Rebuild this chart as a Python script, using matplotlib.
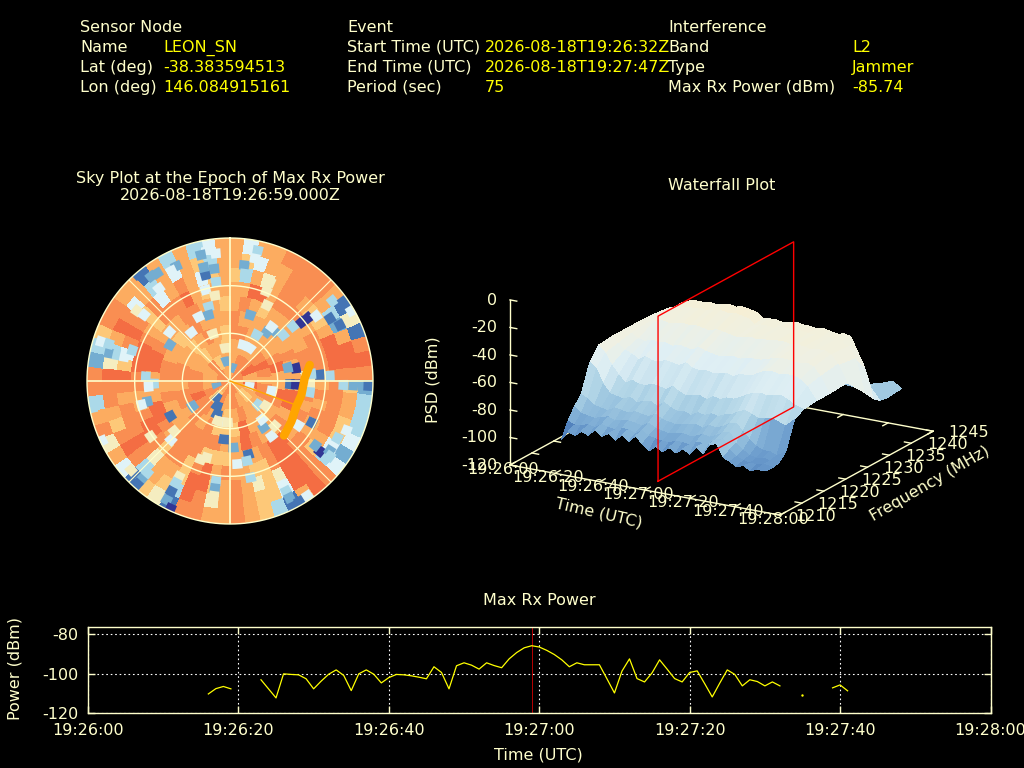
import numpy as np
import matplotlib as mpl
mpl.use('agg')
import matplotlib.pyplot as plt
from matplotlib.colors import ListedColormap, LinearSegmentedColormap, Normalize
from mpl_toolkits.mplot3d import proj3d

plt.rcParams['axes.unicode_minus'] = False

CREAM = '#FFFFCC'
YELLOW = '#FFFF00'
FS = 11.5

# header block: (label, value) rows
sensor_rows = [('Name', 'LEON_SN'), ('Lat (deg)', '-38.383594513'), ('Lon (deg)', '146.084915161')]
event_rows = [('Start Time (UTC)', '2026-08-18T19:26:32Z'), ('End Time (UTC)', '2026-08-18T19:27:47Z'), ('Period (sec)', '75')]
interf_rows = [('Band', 'L2'), ('Type', 'Jammer'), ('Max Rx Power (dBm)', '-85.74')]

# max rx power, seconds after 19:26:00, nan where no data
power_time = [16, 17, 18, 19, 20,
              23, 25, 26, 27, 28, 29, 30, 31, 32, 33, 34, 35, 36, 37, 38, 39, 40, 41, 42, 43, 44, 45, 46, 47, 48, 49,
              50, 51, 52, 53, 54, 55, 56, 57, 58, 59, 60, 61, 62, 63, 64, 65, 66, 67, 68, 69, 70, 71, 72, 73, 74, 75,
              76, 77, 78, 79, 80, 81, 82, 83, 84, 85, 86, 87, 88, 89, 90, 91, 92, 93,
              99, 100, 101]
power_dbm = [-110.2, -107.5, -106.4, -107.6, np.nan,
             -103, -112.2, -100, -100.3, -100.5, -102.5, -107.6, -103.7, -100.2, -98, -100.8, -108.5, -100, -98, -100.2,
             -104.6, -101.9, -100.3, -100.5, -101, -101.7, -102.5, -96.4, -99.3, -107.6, -95.9,
             -94.4, -95.6, -97.6, -94.4, -95.8, -96.9, -92.4, -89.2, -86.8, -85.74, -86.4, -88.1, -90.2, -92.9, -96.4,
             -94.4, -95.4, -95.4, -95.4, -102.5, -109.7, -98.6, -92.4, -102.4, -104.1, -99.5,
             -92.9, -97.6, -102.4, -104.1, -99.3, -98.5, -105, -111.7, -104.7, -98, -100.3, -106.1, -103, -103.9, -106.1,
             -104.1, -106.1, np.nan,
             -107.1, -105.6, -108.6]
dot_time = [95]
dot_power = [-110.7]
max_epoch = 59
time_ticks = [0, 20, 40, 60, 80, 100, 120]
time_labels = ['19:26:00', '19:26:20', '19:26:40', '19:27:00', '19:27:20', '19:27:40', '19:28:00']
power_ticks = [-80, -100, -120]

# sky map background, one string per elevation ring (zenith outwards), sectors clockwise from north
sky_ring_0 = '788778878887'
sky_ring_1 = '78897' + '97678' + '78687' + '77867'
sky_ring_2 = '777789878877787677889888776776'
sky_ring_3 = '887777897' + '798777796' + '668787887' + '887767876'
sky_ring_4 = '8777777877' + '7997877897' + '7888877787' + '8877678777'
sky_ring_5 = '787677777885' + '587877998777' + '666888789977' + '799877788776'
sky_ring_6 = '779978887788887' + '787877889986677' + '879868868998778' + '899987688897677'
sky_ring_7 = '637578876679998' + '888887689956578' + '769967758988878' + '964898684787467'
sky_ring_8 = '764778887327998' + '677664389946678' + '758936738986788' + '953798473747637'
sky_ring_9 = '747788887151898' + '233342489713678' + '778815614758738' + '823688771737347'
sky_rings = [sky_ring_0, sky_ring_1, sky_ring_2, sky_ring_3, sky_ring_4,
             sky_ring_5, sky_ring_6, sky_ring_7, sky_ring_8, sky_ring_9]
sky_colors = ['#313695', '#4575b4', '#74add1', '#abd9e9', '#e0f3f8',
              '#f5edc0', '#fdc878', '#fcac60', '#f98e52', '#f46d43']

# single sky cells that stand out from the background
spot_az = [17, 7, 8, 12, 11.5, 22, 22, 26, 37, 42, 37.5, 30, 31, 20, 49, 49, 50.7, 51, 53, 58, 63, 52, 55, 79, 77, 86, 85, 87, 15, 60,
           92, 92, 92, 93, 93, 103.5, 98, 130, 144, 143, 117, 123, 128, 127, 122, 125, 118, 113, 110, 127, 177, 166, 168, 175, 168, 153, 153, 153, 150, 146, 140, 135, 125, 103,
           186, 201, 207, 217, 253, 190, 197, 183, 236, 239.5, 256, 268, 266, 255, 188, 188, 188, 208, 208, 208, 208, 205, 222, 222, 222, 228, 245, 259, 225, 228, 200.5, 197, 235,
           347, 347, 347, 353.6, 346.6, 352, 345, 344, 342, 334, 321.5, 301, 309, 323, 319, 332, 335, 332, 322.5, 326, 307, 307.6, 283, 283, 283, 287.5, 287, 278, 287, 273, 352, 350, 340, 352, 347]
spot_r = [207, 350, 325, 400, 375, 320, 290, 253, 183, 200, 205, 160, 115, 115, 211, 250, 278, 301, 324, 354, 370, 390, 415, 201, 178, 270, 245, 300, 40, 420,
          415, 370, 340, 180, 198, 128, 242, 110, 172, 207, 275, 245, 342, 321, 395, 365, 365, 380, 410, 375, 200, 227, 296, 250, 245, 349, 371, 393, 417, 415, 150, 190, 130, 60,
          176, 107, 84, 63, 42, 125, 125, 125, 135, 207, 255, 228, 245, 275, 303, 325, 348, 325, 346, 375, 404, 422, 395, 416, 370, 399, 423, 420, 250, 225, 251, 240, 290,
          326, 350, 388, 385, 424, 300, 283, 232, 208, 214, 186, 210, 233, 393, 424, 404, 380, 374, 350, 390, 350, 325, 372, 347, 325, 307, 405, 425, 380, 253, 340, 260, 150, 100, 60]
spot_level = [2, 2, 3, 3, 4, 5, 5, 5, 2, 2, 4, 3, 4, 4, 3, 3, 0, 0, 4, 1, 1, 3, 1, 0, 2, 1, 3, 3, 2, 4,
              1, 2, 3, 1, 0, 4, 3, 3, 2, 4, 1, 4, 0, 2, 2, 2, 3, 4, 3, 3, 2, 1, 3, 4, 3, 4, 3, 2, 1, 4, 4, 5, 5, 4,
              1, 1, 1, 1, 2, 4, 5, 5, 2, 1, 2, 3, 4, 4, 3, 2, 5, 5, 3, 1, 2, 0, 2, 1, 3, 5, 4, 3, 4, 5, 5, 5, 5,
              1, 2, 2, 4, 3, 3, 4, 3, 2, 4, 4, 2, 4, 2, 1, 3, 2, 4, 4, 2, 5, 4, 2, 3, 4, 3, 4, 2, 3, 3, 2, 5, 5, 5, 2]

# satellite track on the sky plot
track_az = [78.6, 88, 101, 111, 123.5, 135.3]
track_zen = [51.2, 47, 45.8, 44.7, 46.3, 48.3]
peak_az = 110
peak_zen = 43

# waterfall
wf_time = [16, 19, 22, 25, 28, 31, 34, 37, 40, 43, 46, 49, 52, 55, 58, 61, 64, 67, 70, 73, 76, 79, 82, 85, 88, 91, 94, 97, 100, 103, 107]
wf_freq = [1213.5, 1215, 1216.5, 1218, 1220, 1222, 1225, 1228, 1232, 1236, 1238, 1239.5, 1241, 1244.5]
psd_1213 = [-103, -96, -98, -94, -96, -91, -95, -92, -96, -91, -95, -90, -95, -99, -95, -98, -94, -97, -93, -96, -90, -94, -86, -85, -94, -96, -99, -97, -100, -98, -98]
psd_1215 = [-92, -94, -93, -92, -93, -90, -91, -92, -90, -90, -92, -89, -92, -93, -94, -94, -92, -92, -93, -90, -90, -89, -85, -84, -91, -95, -97, -98, -98, -97, -98]
psd_1216 = [-84, -88, -89, -90, -88, -87, -89, -88, -87, -88, -89, -86, -89, -90, -91, -90, -89, -90, -89, -87, -88, -86, -83, -82, -89, -93, -96, -97, -96, -97, -97]
psd_1218 = [-78, -80, -84, -85, -86, -83, -84, -85, -83, -84, -85, -82, -85, -86, -87, -86, -85, -84, -86, -83, -84, -82, -79, -78, -83, -88, -92, -94, -94, -96, -92]
psd_1220 = [-58, -62, -72, -78, -79, -80, -78, -81, -79, -78, -81, -77, -80, -82, -81, -83, -80, -81, -79, -80, -78, -77, -74, -72, -74, -76, -75, -74, -76, -78, -72]
psd_1222 = [-49, -54, -62, -68, -73, -70, -72, -72, -70, -71, -72, -69, -72, -74, -73, -72, -74, -71, -72, -70, -70, -68, -65, -63, -62, -63, -62, -61, -63, -66, -68]
psd_1225 = [-48, -52, -56, -58, -61, -58, -60, -60, -58, -59, -60, -57, -60, -61, -60, -61, -60, -59, -61, -58, -58, -57, -54, -52, -52, -53, -52, -52, -54, -58, -67]
psd_1228 = [-48, -50, -53, -54, -52, -53, -52, -54, -52, -53, -54, -51, -53, -54, -55, -54, -53, -54, -53, -52, -52, -51, -49, -48, -48, -49, -49, -48, -50, -56, -67]
psd_1232 = [-48, -49, -47, -46, -47, -46, -45, -46, -45, -46, -47, -45, -46, -47, -48, -47, -46, -47, -46, -46, -45, -45, -46, -45, -46, -47, -46, -46, -48, -54, -66]
psd_1236 = [-49, -47, -45, -43, -42, -42, -41, -42, -41, -40, -41, -40, -41, -42, -46, -45, -45, -46, -44, -44, -45, -44, -45, -45, -46, -45, -46, -47, -49, -56, -80]
psd_1238 = [-50, -48, -44, -42, -41, -41, -40, -41, -40, -39, -40, -39, -40, -41, -45, -44, -44, -45, -44, -43, -44, -44, -45, -44, -45, -46, -45, -46, -56, -66, -88]
psd_1239 = [-70, -66, -64, -62, -60, -61, -60, -62, -60, -59, -61, -60, -61, -62, -64, -63, -64, -65, -63, -64, -65, -64, -65, -66, -65, -66, -64, -78, -82, -84, -92]
psd_1241 = [-88, -87, -86, -87, -85, -86, -85, -87, -86, -85, -86, -85, -87, -86, -88, -87, -87, -88, -86, -87, -88, -86, -87, -88, -87, -86, -86, -86, -85, -84, -93]
psd_1244 = [-96, -95, -96, -95, -96, -95, -96, -96, -95, -96, -95, -96, -96, -95, -97, -96, -96, -97, -95, -96, -97, -96, -96, -97, -96, -95, -94, -92, -90, -88, -92]
psd_rows = [psd_1213, psd_1215, psd_1216, psd_1218, psd_1220, psd_1222, psd_1225,
            psd_1228, psd_1232, psd_1236, psd_1238, psd_1239, psd_1241, psd_1244]
wf_levels = [-105, -97, -90, -80, -70, -60, -50, -38]
wf_colors = ['#4a7ab8', '#6b9bcc', '#8bb8da', '#b0d4e6', '#d2e8f1', '#dfeff4', '#eef0e4', '#f7efd2']
freq_ticks = [1210, 1215, 1220, 1225, 1230, 1235, 1240, 1245]
psd_ticks = [0, -20, -40, -60, -80, -100, -120]
plane_freq = [1213.5, 1244.5]

fig = plt.figure(figsize=(10.24, 7.68), dpi=100, facecolor='black')


def put(x, y, s, color=CREAM, ha='left', rotation=0):
    # x, y in pixels from the top left, y is the middle of the line of text
    if rotation == 0:
        return fig.text(x / 1024, 1 - (y + 5) / 768, s, color=color, fontsize=FS, ha=ha, va='baseline')
    return fig.text(x / 1024, 1 - y / 768, s, color=color, fontsize=FS, ha=ha, va='center',
                    rotation=rotation, rotation_mode='anchor')


# header
put(80, 27, 'Sensor Node')
put(347, 27, 'Event')
put(668, 27, 'Interference')
for i in range(3):
    y = 47 + 20 * i
    put(80, y, sensor_rows[i][0])
    put(163, y, sensor_rows[i][1], YELLOW)
    put(347, y, event_rows[i][0])
    put(485, y, event_rows[i][1], YELLOW)
    put(668, y, interf_rows[i][0])
    put(852, y, interf_rows[i][1], YELLOW)

put(230, 178, 'Sky Plot at the Epoch of Max Rx Power', ha='center')
put(230, 195, '2026-08-18T19:26:59.000Z', ha='center')
put(722, 185, 'Waterfall Plot', ha='center')
put(539, 600, 'Max Rx Power', ha='center')

# sky plot
R = 143
ax_sky = fig.add_axes([(230 - R) / 1024, 1 - (381 + R) / 768, 2 * R / 1024, 2 * R / 768], projection='polar')
ax_sky.set_theta_zero_location('N')
ax_sky.set_theta_direction(-1)
ax_sky.set_facecolor('black')
sky_cmap = ListedColormap(sky_colors)
r_edges = np.linspace(0, 90, len(sky_rings) + 1)
for i, ring in enumerate(sky_rings):
    vals = np.array([[int(c) for c in ring]])
    th_edges = np.radians(np.linspace(0, 360, vals.shape[1] + 1))
    ax_sky.pcolormesh(th_edges, r_edges[i:i + 2], vals, cmap=sky_cmap, vmin=-0.5, vmax=9.5,
                      edgecolors='face', linewidth=0.2)
for az, r, lev in zip(spot_az, spot_r, spot_level):
    r_px = r / 3
    ax_sky.bar(np.radians(az), 6, width=min(10 / r_px, 0.35), bottom=r_px * 90 / R - 3,
               color=sky_colors[lev], linewidth=0, zorder=2)
ax_sky.set_rlim(0, 90)
ax_sky.set_axis_off()
circ = np.radians(np.linspace(0, 360, 361))
for zen in [30, 60, 90]:
    ax_sky.plot(circ, [zen] * len(circ), color=CREAM, lw=1, clip_on=False, zorder=3)
for az in range(0, 360, 45):
    ax_sky.plot([np.radians(az)] * 2, [0, 90], color=CREAM, lw=0.8 if az % 90 else 1.2, zorder=3)
ax_sky.plot([0, np.radians(peak_az)], [0, peak_zen], color='orange', lw=1, zorder=4)
ax_sky.plot(np.radians(track_az), track_zen, color='orange', lw=6, solid_capstyle='round', zorder=4)

# waterfall, axis box fitted to the frame of the reference
elev, azim = 18.6, -59.8
ax3 = fig.add_axes([0.3, 0.1, 0.6, 0.8], projection='3d', proj_type='ortho', computed_zorder=False)
ax3.set_position([0.3, 0.1, 0.6, 0.6 * 1024 / 768])
ax3.patch.set_alpha(0)
ax3.view_init(elev, azim)
ax3.set_box_aspect((312, 304, 174))
ax3.set_xlim(0, 120, view_margin=0)
ax3.set_ylim(1210, 1245, view_margin=0)
ax3.set_zlim(-120, 0, view_margin=0)
ax3.set_axis_off()


def to_px(t, f, z):
    x2, y2, _ = proj3d.proj_transform(t, f, z, ax3.get_proj())
    return ax3.transData.transform((x2, y2))


a = to_px(0, 1210, -120)
b = to_px(120, 1245, 0)
target_a = np.array([510.0, 768 - 465.0])
target_b = np.array([510 + 270 + 153, 768 - (465 + 50 - 84 - 165)])
scale = np.linalg.norm(target_b - target_a) / np.linalg.norm(b - a)
pos = ax3.get_position()
w_px = pos.width * 1024 * scale
ax3.set_position([pos.x0, pos.y0, w_px / 1024, w_px / 768])
a = to_px(0, 1210, -120)
pos = ax3.get_position()
ax3.set_position([pos.x0 + (target_a[0] - a[0]) / 1024, pos.y0 + (target_a[1] - a[1]) / 768, pos.width, pos.height])

T, F = np.meshgrid(wf_time, wf_freq)
Z = np.array(psd_rows, dtype=float)
wf_pos = [(v - wf_levels[0]) / (wf_levels[-1] - wf_levels[0]) for v in wf_levels]
wf_cmap = LinearSegmentedColormap.from_list('wf', list(zip(wf_pos, wf_colors)))
face = wf_cmap(Normalize(wf_levels[0], wf_levels[-1])(Z))

line_kw = dict(color=CREAM, lw=1, zorder=1)
for t0, f0, t1, f1 in [(0, 1210, 120, 1210), (120, 1210, 120, 1245), (120, 1245, 0, 1245), (0, 1245, 0, 1210)]:
    ax3.plot([t0, t1], [f0, f1], [-120, -120], **line_kw)
ax3.plot([0, 0], [1210, 1210], [-120, 0], **line_kw)
for t in time_ticks:
    ax3.plot([t, t], [1210, 1211.2], [-120, -120], **line_kw)
    ax3.plot([t, t], [1245, 1243.8], [-120, -120], **line_kw)
for f in freq_ticks:
    ax3.plot([120, 117], [f, f], [-120, -120], **line_kw)
    ax3.plot([0, 3], [f, f], [-120, -120], **line_kw)
for z in psd_ticks:
    ax3.plot([0, 3], [1210, 1210], [z, z], **line_kw)

ax3.plot_surface(T, F, Z, facecolors=face, rstride=1, cstride=1, shade=False, linewidth=0,
                 antialiased=False, zorder=2)

f0, f1 = plane_freq
ax3.plot([max_epoch] * 5, [f0, f1, f1, f0, f0], [-120, -120, 0, 0, -120], color='red', lw=1, zorder=3)


def label3d(t, f, z, s, dx, dy, ha='center'):
    p = to_px(t, f, z)
    fig.text((p[0] + dx) / 1024, (p[1] - dy - 5) / 768, s, color=CREAM, fontsize=FS, ha=ha, va='baseline')


for z in psd_ticks:
    label3d(0, 1210, z, str(z), -13, 0, ha='right')
for t, lab in zip(time_ticks, time_labels):
    label3d(t, 1210, -120, lab, -7, 4)
for f in freq_ticks:
    label3d(120, f, -120, str(f), 36, 1)
put(433, 380, 'PSD (dBm)', ha='center', rotation=90)
put(599, 513, 'Time (UTC)', ha='center', rotation=-13)
put(930, 484, 'Frequency (MHz)', ha='center', rotation=30)

# max rx power strip
ax_pw = fig.add_axes([88 / 1024, 1 - 713.3 / 768, 902.5 / 1024, 86.8 / 768])
ax_pw.set_facecolor('black')
ax_pw.plot(power_time, power_dbm, color=YELLOW, lw=0.9, zorder=3)
ax_pw.plot(dot_time, dot_power, color=YELLOW, marker='s', ms=0.7, ls='none', zorder=3)
ax_pw.axvline(max_epoch, color='red', lw=0.5, zorder=2)
ax_pw.set_xlim(0, 120)
ax_pw.set_ylim(-120, -76)
ax_pw.set_xticks(time_ticks)
ax_pw.set_xticklabels(time_labels)
ax_pw.set_yticks(power_ticks)
ax_pw.tick_params(colors=CREAM, labelsize=FS, direction='in', top=True, right=True, length=5, width=1, pad=7)
ax_pw.grid(True, color='white', ls=(0, (1.5, 2.5)), lw=0.8)
for sp in ax_pw.spines.values():
    sp.set_color(CREAM)
    sp.set_linewidth(1)
put(15, 668, 'Power (dBm)', ha='center', rotation=90)
put(538, 754, 'Time (UTC)', ha='center')

fig.savefig('out.png', dpi=100, facecolor='black')
